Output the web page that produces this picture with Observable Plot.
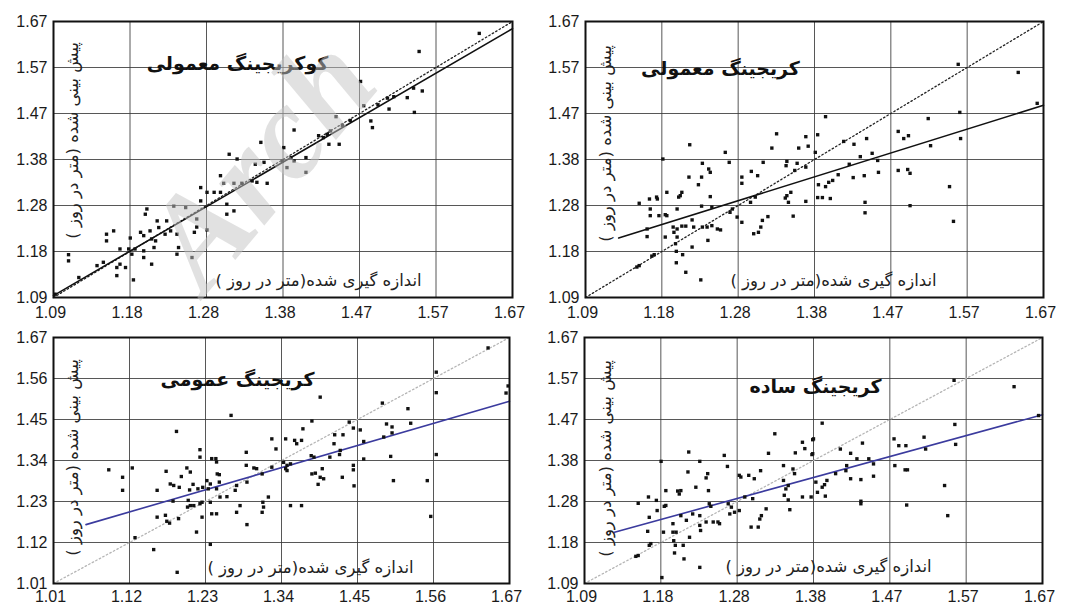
<!DOCTYPE html>
<html>
<head>
<meta charset="utf-8">
<script src="https://cdn.jsdelivr.net/npm/d3@7"></script>
<script src="https://cdn.jsdelivr.net/npm/@observablehq/plot@0.6"></script>
<style>
  body { margin: 0; background: #fff; }
  #wrap { position: relative; width: 1066px; height: 608px; overflow: hidden; background: #fff; }
  .panel { position: absolute; }
  .panel svg { display: block; }
  g[aria-label="box-title"] text, g[aria-label="box-ylab"] text, g[aria-label="fa-xlab"] text { direction: rtl; }
  #wm { position: absolute; left: 0; top: 0; pointer-events: none; }
</style>
</head>
<body>
<div id="wrap"></div>
<script>
// ---------- tick labels ----------
const ticksA = [1.09, 1.18, 1.28, 1.38, 1.47, 1.57, 1.67];   // top-left, top-right, bottom-right
const ticksB = [1.01, 1.12, 1.23, 1.34, 1.45, 1.56, 1.67];   // bottom-left

// ---------- texts ----------
const titles = ["کوکریجینگ معمولی", "کریجینگ معمولی", "کریجینگ عمومی", "کریجینگ ساده"];
const yLabel = "پیش بینی شده (متر در روز )";
const xLabel = "اندازه گیری شده(متر در روز )";

// ---------- panel 1: co-kriging (ordinary) ----------
const tlMeasured = [1.628,1.552,1.478,1.546,1.514,1.482,1.491,1.493,1.556,1.512,
  1.537,1.447,1.394,1.438,1.451,1.425,1.431,1.436,1.409,1.409,
  1.381,1.390,1.385,1.379,1.394,1.352,1.345,1.356,1.312,1.322,
  1.301,1.305,1.318,1.328,1.341,1.347,1.360,1.276,1.284,1.293,
  1.301,1.276,1.309,1.318,1.309,1.271,1.271,1.268,1.284,1.265,
  1.257,1.242,1.233,1.238,1.231,1.246,1.248,1.246,1.221,1.223,
  1.219,1.217,1.208,1.206,1.200,1.204,1.212,1.214,1.193,1.204,
  1.204,1.214,1.187,1.185,1.189,1.174,1.174,1.170,1.170,1.181,
  1.166,1.157,1.157,1.191,1.109,1.109,1.122,1.092,1.145,1.153,
  1.440,1.455,1.465,1.500,1.520,1.545];
const tlPredicted = [1.645,1.607,1.544,1.479,1.486,1.493,1.461,1.447,1.524,1.509,
  1.510,1.470,1.442,1.412,1.412,1.430,1.426,1.433,1.384,1.353,
  1.405,1.384,1.363,1.377,1.377,1.416,1.370,1.374,1.391,1.381,
  1.346,1.330,1.330,1.330,1.335,1.332,1.330,1.321,1.311,1.311,
  1.311,1.293,1.286,1.272,1.265,1.255,1.238,1.227,1.232,1.174,
  1.279,1.282,1.251,1.230,1.223,1.223,1.195,1.181,1.251,1.237,
  1.209,1.195,1.276,1.265,1.227,1.220,1.230,1.213,1.192,1.174,
  1.188,1.160,1.215,1.192,1.181,1.192,1.160,1.153,1.136,1.153,
  1.230,1.223,1.209,1.127,1.180,1.167,1.132,1.097,1.157,1.164,
  1.440,1.452,1.462,1.495,1.512,1.530];
const tlFitX = [1.09, 1.67];
const tlFitY = [1.094, 1.655];

// ---------- panel 2: ordinary kriging ----------
const trMeasured = [1.332,1.326,1.369,1.372,1.360,1.345,1.344,1.358,1.355,1.369,
  1.345,1.343,1.350,1.347,1.369,1.353,1.267,1.272,1.300,1.308,
  1.315,1.288,1.288,1.305,1.299,1.276,1.273,1.288,1.282,1.321,
  1.314,1.312,1.303,1.309,1.222,1.238,1.237,1.233,1.246,1.248,
  1.221,1.248,1.237,1.250,1.250,1.244,1.238,1.257,1.261,1.225,
  1.227,1.225,1.245,1.236,1.217,1.213,1.206,1.204,1.202,1.206,
  1.201,1.212,1.217,1.208,1.212,1.210,1.206,1.193,1.193,1.191,
  1.205,1.205,1.188,1.181,1.183,1.191,1.172,1.172,1.168,1.168,
  1.171,1.180,1.158,1.177,1.174,1.158,1.155,
  1.562,1.638,1.564,1.565,1.524,1.527,1.486,1.493,1.499,1.486,
  1.498,1.501,1.501,1.551,1.556,1.394,1.384,1.381,1.417,1.430,
  1.446,1.438,1.453,1.460,1.424,1.410,1.429,1.443,1.461,1.385,
  1.394,1.398,1.403,1.384,1.390,1.400,1.444,1.444,1.662];
const trPredicted = [1.434,1.404,1.428,1.408,1.404,1.376,1.367,1.372,1.357,1.364,
  1.304,1.299,1.311,1.290,1.292,1.261,1.395,1.374,1.355,1.346,
  1.374,1.343,1.330,1.301,1.290,1.276,1.269,1.248,1.259,1.260,
  1.252,1.238,1.224,1.227,1.411,1.372,1.343,1.327,1.360,1.353,
  1.343,1.302,1.282,1.280,1.241,1.238,1.238,1.234,1.232,1.253,
  1.238,1.196,1.210,1.127,1.143,1.180,1.217,1.203,1.227,1.234,
  1.238,1.240,1.240,1.301,1.311,1.304,1.276,1.311,1.262,1.217,
  1.187,1.163,1.381,1.297,1.262,1.264,1.276,1.262,1.234,1.218,
  1.297,1.301,1.288,1.180,1.177,1.157,1.154,
  1.580,1.563,1.479,1.424,1.466,1.409,1.439,1.424,1.430,1.357,
  1.359,1.351,1.283,1.323,1.250,1.470,1.432,1.395,1.418,1.412,
  1.424,1.386,1.393,1.378,1.370,1.348,1.342,1.346,1.353,1.327,
  1.323,1.332,1.336,1.300,1.300,1.298,1.290,1.268,1.498];
const trFitX = [1.132, 1.67];
const trFitY = [1.215, 1.494];

// ---------- panel 3: universal kriging ----------
const blMeasured = [1.267,1.188,1.222,1.222,1.239,1.245,1.246,1.203,1.208,1.173,
  1.195,1.184,1.192,1.179,1.160,1.207,1.212,1.219,1.226,1.232,
  1.237,1.234,1.246,1.250,1.250,1.247,1.183,1.205,1.208,1.204,
  1.213,1.222,1.225,1.160,1.172,1.174,1.178,1.191,1.225,1.239,
  1.246,1.217,1.237,1.237,1.155,1.128,1.090,1.110,1.110,1.124,
  1.189,1.261,1.251,1.275,1.273,1.289,1.289,1.290,1.280,1.275,
  1.290,1.300,1.304,1.312,1.313,1.314,1.312,1.321,1.326,1.332,
  1.326,
  1.639,1.564,1.564,1.665,1.396,1.486,1.523,1.384,1.371,1.346,
  1.359,1.362,1.369,1.417,1.429,1.416,1.438,1.444,1.454,1.492,
  1.500,1.500,1.488,1.527,1.459,1.459,1.425,1.424,1.410,1.383,
  1.387,1.343,1.348,1.346,1.348,1.353,1.384,1.389,1.399,1.396,
  1.401,1.393,1.428,1.444,1.444,1.445,1.498,1.502,1.551,1.564,
  1.556,1.353,1.369,1.668];
const blPredicted = [1.461,1.418,1.369,1.349,1.345,1.345,1.336,1.320,1.309,1.311,
  1.297,1.273,1.268,1.277,1.260,1.261,1.276,1.264,1.268,1.286,
  1.277,1.264,1.264,1.282,1.302,1.304,1.231,1.233,1.219,1.215,
  1.219,1.224,1.228,1.188,1.193,1.177,1.172,1.184,1.188,1.197,
  1.197,1.148,1.228,1.115,1.101,1.133,1.315,1.295,1.260,1.320,
  1.040,1.243,1.242,1.273,1.260,1.362,1.327,1.282,1.219,1.201,
  1.168,1.320,1.318,1.304,1.228,1.215,1.201,1.242,1.398,1.371,
  1.322,
  1.642,1.577,1.522,1.521,1.510,1.494,1.479,1.446,1.425,1.398,
  1.394,1.385,1.394,1.409,1.409,1.385,1.443,1.427,1.422,1.438,
  1.430,1.414,1.403,1.440,1.391,1.344,1.367,1.356,1.349,1.353,
  1.349,1.335,1.327,1.318,1.313,1.331,1.304,1.306,1.318,1.295,
  1.291,1.276,1.295,1.327,1.315,1.272,1.351,1.286,1.286,1.356,
  1.190,1.219,1.219,1.540];
const blFitX = [1.057, 1.67];
const blFitY = [1.168, 1.499];

// ---------- panel 4: simple kriging ----------
const brMeasured = [1.331,1.323,1.313,1.305,1.298,1.288,1.286,1.267,1.271,1.236,
  1.221,1.222,1.246,1.244,1.231,1.247,1.208,1.210,1.212,1.193,
  1.193,1.187,1.171,1.181,1.158,1.182,1.191,1.172,1.170,1.174,
  1.172,1.190,1.155,1.158,1.202,1.202,1.206,1.203,1.205,1.204,
  1.215,1.216,1.223,1.212,1.219,1.227,1.236,1.236,1.237,1.244,
  1.253,1.259,1.261,1.250,1.248,1.236,1.272,1.274,1.280,1.286,
  1.276,1.314,1.312,1.301,1.310,1.293,1.303,1.320,1.342,1.342,
  1.354,1.356,1.357,1.366,1.369,1.379,1.379,1.377,1.343,1.348,
  1.350,1.366,1.348,1.345,1.188,
  1.558,1.634,1.559,1.560,1.665,1.520,1.522,1.482,1.488,1.497,
  1.483,1.496,1.499,1.498,1.546,1.550,1.391,1.380,1.378,1.414,
  1.427,1.442,1.422,1.435,1.450,1.456,1.421,1.408,1.427,1.440,
  1.456,1.383,1.397,1.394,1.391,1.385,1.395,1.440,1.440];
const brPredicted = [1.443,1.397,1.356,1.337,1.345,1.341,1.345,1.392,1.366,1.378,
  1.353,1.400,1.349,1.339,1.317,1.309,1.308,1.301,1.309,1.309,
  1.274,1.378,1.294,1.286,1.279,1.262,1.272,1.246,1.213,1.184,
  1.180,1.211,1.154,1.156,1.231,1.211,1.211,1.191,1.180,1.162,
  1.180,1.148,1.199,1.250,1.239,1.254,1.250,1.227,1.215,1.235,
  1.235,1.235,1.231,1.272,1.278,1.128,1.278,1.254,1.258,1.262,
  1.270,1.250,1.242,1.223,1.223,1.294,1.290,1.266,1.368,1.333,
  1.360,1.349,1.398,1.423,1.408,1.429,1.396,1.294,1.298,1.287,
  1.264,1.294,1.321,1.313,1.104,
  1.569,1.554,1.465,1.418,1.486,1.435,1.407,1.431,1.415,1.415,
  1.368,1.358,1.358,1.275,1.321,1.250,1.468,1.431,1.394,1.407,
  1.397,1.421,1.368,1.384,1.384,1.372,1.356,1.349,1.337,1.335,
  1.343,1.329,1.333,1.323,1.317,1.305,1.296,1.284,1.278];
const brFitX = [1.128, 1.67];
const brFitY = [1.211, 1.488];

// ---------- drawing ----------
const wrap = document.getElementById("wrap");
const boxPads = {"box-title": [10, 16], "box-ylab": [3, 6]};

function drawPanel(cfg) {
  const lo = cfg.labels[0], hi = cfg.labels[cfg.labels.length - 1];
  const n = cfg.labels.length - 1;
  const ticks = d3.range(n + 1).map(i => lo + i * (hi - lo) / n);
  const fmt = d => cfg.labels[Math.round((d - lo) / (hi - lo) * n)].toFixed(2);
  const pts = cfg.mx.map((x, i) => ({x, y: cfg.my[i]}));
  const fit = cfg.fx.map((x, i) => ({x, y: cfg.fy[i]}));
  const ident = [lo, hi];
  const faText = {frameAnchor: "top-left", textAnchor: "middle", lineAnchor: "middle",
    fontFamily: "'DejaVu Sans', sans-serif", text: d => d};
  const svg = Plot.plot({
    width: cfg.width, height: cfg.height,
    marginLeft: cfg.m[0], marginRight: cfg.m[1], marginTop: cfg.m[2], marginBottom: cfg.m[3],
    x: {domain: [lo, hi], label: null},
    y: {domain: [lo, hi], label: null},
    style: {fontFamily: "'Liberation Sans', Arial, sans-serif", fontSize: "16px", color: "#1a1a1a", background: "none", overflow: "visible"},
    marks: [
      Plot.gridX(ticks, {stroke: "#3a3a3a", strokeOpacity: 0.85, strokeWidth: 1}),
      Plot.gridY(ticks, {stroke: "#3a3a3a", strokeOpacity: 0.85, strokeWidth: 1}),
      Plot.axisX(ticks, {tickSize: 0, tickPadding: cfg.xPad, tickFormat: fmt, fontSize: 16, label: null, dx: -3}),
      Plot.axisY(ticks, {tickSize: 0, tickPadding: 6, tickFormat: fmt, fontSize: 16, label: null}),
      Plot.text([cfg.title], {...faText, dx: cfg.tPos[0], dy: cfg.tPos[1],
        fontWeight: "bold", fontSize: 19, fill: "#111", ariaLabel: "box-title"}),
      Plot.text([yLabel], {...faText, dx: cfg.yPos[0], dy: cfg.yPos[1], rotate: -90,
        fontSize: 16.5, fill: "#222", ariaLabel: "box-ylab"}),
      Plot.text([xLabel], {...faText, dx: cfg.xPos[0], dy: cfg.xPos[1],
        fontSize: 16.5, fill: "#222", ariaLabel: "fa-xlab"}),
      Plot.line(ident, {x: d => d, y: d => d, stroke: cfg.idColor, strokeWidth: 1.3, strokeDasharray: "1.5,2.5"}),
      Plot.line(fit, {x: "x", y: "y", stroke: cfg.fitColor, strokeWidth: 1.6}),
      Plot.dot(pts, {x: "x", y: "y", symbol: "square", r: 1.9, fill: "#111", stroke: "none"}),
      Plot.frame({stroke: "#111", strokeWidth: 2})
    ]
  });
  const div = document.createElement("div");
  div.className = "panel";
  div.style.left = cfg.left + "px";
  div.style.top = cfg.top + "px";
  div.appendChild(svg);
  wrap.appendChild(div);
  // white boxes behind the annotation texts
  svg.querySelectorAll("g[aria-label]").forEach(g => {
    const p = boxPads[g.getAttribute("aria-label")];
    if (!p) return;
    g.querySelectorAll("text").forEach(t => {
      const b = t.getBBox();
      const r = document.createElementNS("http://www.w3.org/2000/svg", "rect");
      r.setAttribute("x", b.x - p[0]);
      r.setAttribute("y", b.y - p[1]);
      r.setAttribute("width", b.width + 2 * p[0]);
      r.setAttribute("height", b.height + 2 * p[1]);
      r.setAttribute("fill", "#fff");
      const tr = t.getAttribute("transform");
      if (tr) r.setAttribute("transform", tr);
      t.parentNode.insertBefore(r, t);
    });
  });
}

drawPanel({left: 0, top: 0, width: 533, height: 330, m: [53, 21, 21, 33], xPad: 9,
  labels: ticksA, mx: tlMeasured, my: tlPredicted, fx: tlFitX, fy: tlFitY,
  fitColor: "#111", idColor: "#222", title: titles[0],
  tPos: [184, 42], yPos: [19, 119], xPos: [265, 259]});
drawPanel({left: 533, top: 0, width: 533, height: 330, m: [52, 23, 21, 33], xPad: 9,
  labels: ticksA, mx: trMeasured, my: trPredicted, fx: trFitX, fy: trFitY,
  fitColor: "#111", idColor: "#222", title: titles[1],
  tPos: [135, 47], yPos: [20, 122], xPos: [248, 259]});
drawPanel({left: 0, top: 304, width: 533, height: 304, m: [53, 24, 33, 25], xPad: 7,
  labels: ticksB, mx: blMeasured, my: blPredicted, fx: blFitX, fy: blFitY,
  fitColor: "#3b3b9e", idColor: "#b5b5b5", title: titles[2],
  tPos: [184, 42], yPos: [19, 120], xPos: [257, 230]});
drawPanel({left: 533, top: 304, width: 533, height: 304, m: [51, 24, 33, 25], xPad: 7,
  labels: ticksA, mx: brMeasured, my: brPredicted, fx: brFitX, fy: brFitY,
  fitColor: "#3b3b9e", idColor: "#b5b5b5", title: titles[3],
  tPos: [231, 49], yPos: [21, 121], xPos: [244, 229]});

// watermark overlay (partly visible in the reference)
const wm = d3.select("#wrap").append("svg").attr("id", "wm").attr("width", 1066).attr("height", 608);
wm.append("text")
  .attr("transform", "translate(205,296) rotate(-50)")
  .attr("font-family", "'Liberation Serif', serif")
  .attr("font-weight", "bold").attr("font-style", "italic")
  .attr("font-size", 134)
  .attr("fill", "#c4c4c4").attr("fill-opacity", 0.5)
  .text("Arch");
</script>
</body>
</html>
